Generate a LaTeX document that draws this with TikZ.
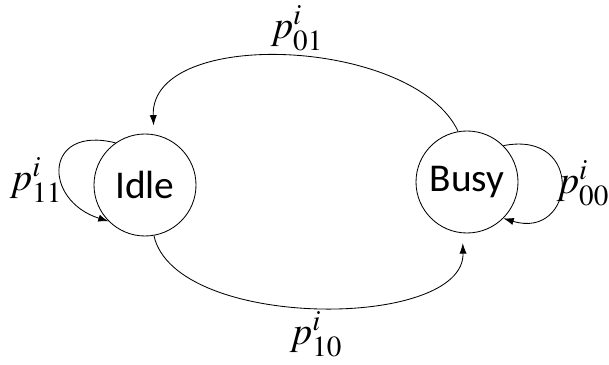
\documentclass[tikz,border=0pt]{standalone}
\usepackage{mathptmx}
\usepackage{fontspec}
\newfontfamily\statefont{Carlito}
\usepackage{tikz}
\usetikzlibrary{arrows.meta,calc}

\begin{document}
\begin{tikzpicture}[>={Latex[length=2.6mm,width=1.8mm]},
  state/.style={draw,circle,semithick,minimum size=2.55cm,inner sep=0pt,font=\statefont\fontsize{28}{32}\selectfont},
  prob/.style={font=\fontsize{28}{31}\selectfont,inner sep=0pt},
  trans/.style={->,semithick}]
\useasboundingbox (0,0) rectangle (15.225,9.1);
\node[state] (idle) at (3.625,4.475) {Idle};
\node[state] (busy) at (11.675,4.55) {Busy};
\node[prob] (p11) at (0.9,4.6) {$p^{i}_{11}$};
\node[prob] (p00) at (14.57,4.52) {$p^{i}_{00}$};
\node[prob] (p01) at (7.42,8.4) {$p^{i}_{01}$};
\node[prob] (p10) at (7.9,0.75) {$p^{i}_{10}$};
\draw[trans,shorten >=0.22cm] (busy.100) .. controls +(-1.1,2.35) and +(-0.1,2.7) .. (idle.80);
\draw[trans,shorten >=0.25cm] (idle.280) .. controls +(0.525,-2.375) and +(0.06,-2.425) .. (busy.265);
\draw[trans] (idle.125) .. controls +(-1.8,0.45) and +(-1.65,0.525) .. (idle.225);
\draw[trans] (busy.45) .. controls +(2.05,0.4) and +(1.8,-0.55) .. (busy.-45);
\end{tikzpicture}
\end{document}
